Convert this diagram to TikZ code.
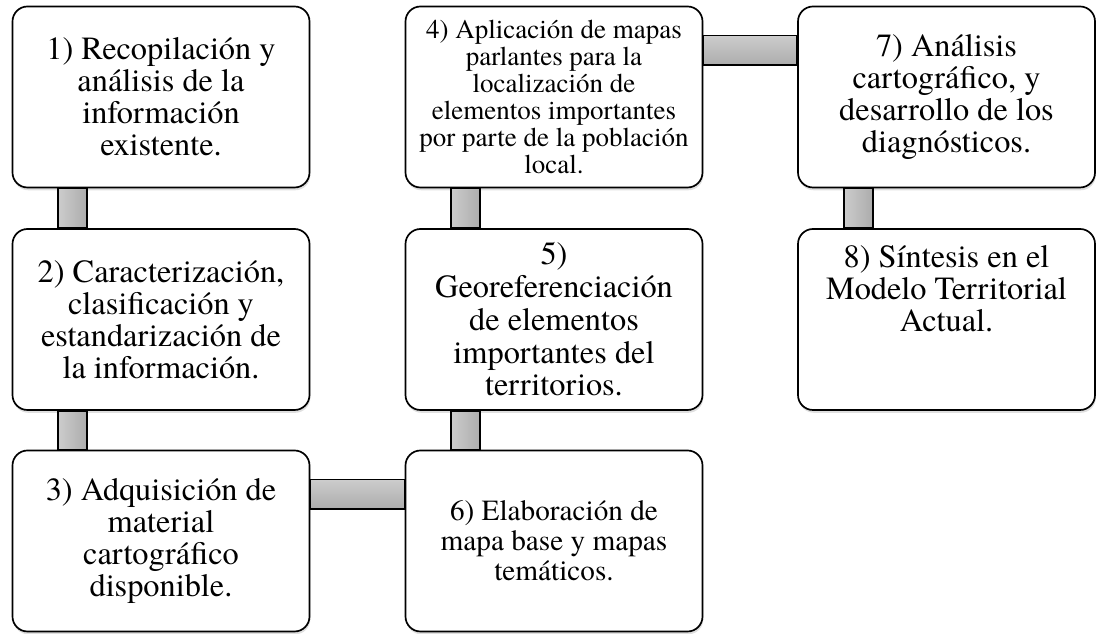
\documentclass[tikz,border=0pt]{standalone}
\usepackage{fontspec}
\setmainfont{TeX Gyre Termes}
\usetikzlibrary{calc,positioning,shadows}
\tikzset{
  txt/.style={align=center, font=\fontsize{23}{22.8}\selectfont},
  box/.style={txt, draw, line width=1.2pt, rounded corners=0.375cm, fill=white,
    minimum width=7.425cm, minimum height=4.525cm,
    drop shadow={opacity=0.25, shadow xshift=0.02cm, shadow yshift=-0.07cm}},
  vbar/.style={draw, line width=1.2pt, left color=gray!40, right color=gray!65},
  hbar/.style={draw, line width=1.2pt, top color=gray!40, bottom color=gray!65}
}

\begin{document}
\begin{tikzpicture}
\useasboundingbox (0,0) rectangle (27.45,15.85);
\node[box] (b1) at (4.025,13.425) {1) Recopilación y\\análisis de la\\información\\existente.};
\node[box] (b2) at (4.025,7.8625) {2) Caracterización,\\clasificación y\\estandarización de\\la información.};
\node[box] (b3) at (4.025,2.325) {3) Adquisición de\\material\\cartográfico\\disponible.};
\node[box, font=\fontsize{19.2}{19.2}\selectfont] (b4) at (13.85,13.425)
  {4) Aplicación de mapas\\parlantes para la\\localización de\\elementos importantes\\por parte de la población\\local.};
\node[box, font=\fontsize{23}{23.3}\selectfont] (b5) at (13.85,7.8625)
  {5)\\Georeferenciación\\de elementos\\importantes del\\territorios.};
\node[box, font=\fontsize{20.8}{21.3}\selectfont] (b6) at (13.85,2.325)
  {6) Elaboración de\\mapa base y mapas\\temáticos.};
\node[box] (b7) at (23.6625,13.425) {7) Análisis\\cartográfico, y\\desarrollo de los\\diagnósticos.};
\node[box] (b8) at (23.6625,7.8625) {};
\node[txt, below=0.3cm of b8.north] (t8) {8) Síntesis en el\\Modelo Territorial\\Actual.};
\draw[vbar] ([xshift=1.1625cm]b1.south west) rectangle ([xshift=1.8875cm]b2.north west);
\draw[vbar] ([xshift=1.1625cm]b2.south west) rectangle ([xshift=1.8875cm]b3.north west);
\draw[hbar] ([yshift=-0.75cm]b3.north east) rectangle ([yshift=-1.4875cm]b6.north west);
\draw[vbar] ([xshift=1.1625cm]b5.south west) rectangle ([xshift=1.8875cm]b6.north west);
\draw[vbar] ([xshift=1.1625cm]b4.south west) rectangle ([xshift=1.8875cm]b5.north west);
\draw[hbar] ([yshift=-0.75cm]b4.north east) rectangle ([yshift=-1.4875cm]b7.north west);
\draw[vbar] ([xshift=1.1625cm]b7.south west) rectangle ([xshift=1.8875cm]b8.north west);
\end{tikzpicture}
\end{document}
